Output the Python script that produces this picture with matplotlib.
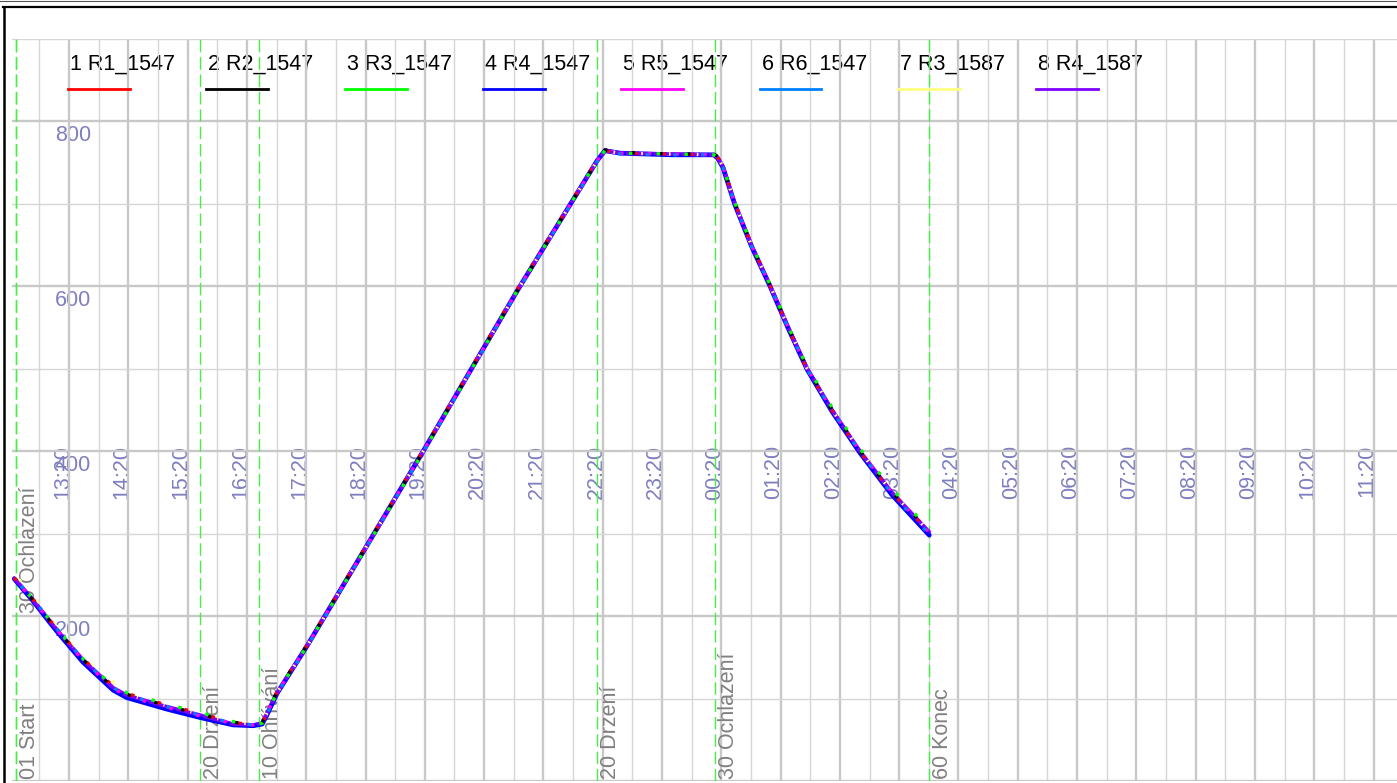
import matplotlib
matplotlib.use("Agg")
import matplotlib.pyplot as plt
import matplotlib.dates as mdates
import matplotlib.transforms as mtransforms
from matplotlib.lines import Line2D
from matplotlib.ticker import MultipleLocator
import pandas as pd

plt.rcParams['font.family'] = ['Liberation Sans', 'DejaVu Sans']
plt.rcParams['lines.scale_dashes'] = False

# --- data (hours from midnight of the start day, temperatures) ---
t_hours = [12.41, 12.73, 13.00, 13.18, 13.57, 14.08, 14.31, 14.99, 15.54, 16.10,
           16.44, 16.59, 16.67, 16.84, 17.35, 19.30, 20.89, 22.24, 22.37, 22.63,
           23.50, 24.21, 24.27, 24.36, 24.56, 24.85, 25.16, 25.46, 25.78, 26.20,
           26.67, 27.21, 27.84]

r1_1547 = [246, 220, 196, 180, 148, 115, 106, 92, 82, 71, 68, 70, 82, 108, 165, 400, 596,
           753, 764, 761, 760, 759, 756, 746, 701, 649, 600, 549, 499, 449, 399, 349, 302]
r2_1547 = [245, 219, 195, 179, 147, 113, 105, 91, 81, 71, 69, 70, 83, 108, 165, 399, 594,
           752, 765, 762, 760, 760, 757, 745, 700, 648, 600, 550, 500, 450, 400, 350, 303]
r3_1547 = [246, 220, 196, 180, 148, 115, 107, 93, 83, 72, 69, 70, 82, 107, 164, 398, 594,
           752, 764, 761, 760, 759, 756, 745, 701, 649, 601, 551, 502, 453, 403, 354, 305]
r4_1547 = [245, 218, 193, 177, 144, 110, 101, 87, 77, 68, 67, 69, 80, 106, 164, 399, 594,
           752, 764, 761, 759, 759, 755, 744, 699, 647, 599, 549, 499, 448, 398, 347, 298]
r5_1547 = [246, 219, 195, 179, 146, 112, 103, 89, 79, 70, 68, 70, 82, 107, 164, 399, 594,
           752, 764, 761, 760, 759, 756, 745, 700, 648, 600, 550, 500, 450, 400, 350, 301]
r6_1547 = [246, 220, 196, 180, 147, 113, 104, 90, 80, 70, 68, 70, 81, 106, 163, 398, 593,
           751, 763, 760, 759, 759, 755, 744, 699, 647, 599, 549, 499, 449, 399, 348, 299]
r3_1587 = [251, 224, 199, 182, 149, 120, 105, 91, 81, 71, 69, 70, 82, 107, 164, 399, 594,
           752, 764, 761, 760, 759, 756, 745, 700, 648, 600, 550, 500, 450, 400, 350, 302]
r4_1587 = [246, 219, 195, 179, 147, 113, 104, 90, 80, 69, 68, 70, 82, 107, 164, 399, 594,
           752, 764, 761, 760, 759, 756, 745, 700, 648, 600, 550, 500, 450, 400, 350, 302]

series_names = ['1 R1_1547', '2 R2_1547', '3 R3_1547', '4 R4_1547',
                '5 R5_1547', '6 R6_1547', '7 R3_1587', '8 R4_1587']
series_values = [r1_1547, r2_1547, r3_1547, r4_1547, r5_1547, r6_1547, r3_1587, r4_1587]
series_colors = ['#ff0000', '#000000', '#00ff00', '#0000ff',
                 '#ff00ff', '#0080ff', '#ffff80', '#8000ff']

# program phases: time of change, label, label height
phase_hours = [12.44, 12.44, 15.54, 16.54, 22.24, 24.23, 27.84]
phase_labels = ['01 Start', '30 Ochlazení', '20 Drzení', '10 Ohřívání',
                '20 Drzení', '30 Ochlazení', '60 Konec']
phase_label_y = [3, 204, 3, 3, 3, 3, 3]

y_ticks = [200, 400, 600, 800]

DAY = pd.Timestamp('2024-01-01')


def to_time(hours):
    return [DAY + pd.Timedelta(hours=h) for h in hours]


W, H = 1397, 783
fig = plt.figure(figsize=(W / 100, H / 100), dpi=100)
ax = fig.add_axes([12 / W, 2 / H, 1385 / W, 742.5 / H])

times = to_time(t_hours)
ax.set_xlim(to_time([12.372, 35.728]))
ax.set_ylim(0, 900)

ax.xaxis.set_major_locator(mdates.MinuteLocator(byminute=[20]))
ax.xaxis.set_minor_locator(mdates.MinuteLocator(byminute=[50]))
ax.yaxis.set_major_locator(MultipleLocator(200))
ax.yaxis.set_minor_locator(MultipleLocator(100))
ax.grid(which='major', color='#c8c8c8', linewidth=1.7)
ax.grid(which='minor', color='#d6d6d6', linewidth=1.0)
ax.set_axisbelow(True)
ax.tick_params(which='both', length=0, labelbottom=False, labelleft=False)
for sp in ax.spines.values():
    sp.set_visible(False)

# phase markers
for h, lab, ly in zip(phase_hours, phase_labels, phase_label_y):
    x = to_time([h])[0]
    ax.axvline(x, color='#44f044', linewidth=1.0, linestyle=(0, (9, 3.5)), zorder=1.5)
    off = mtransforms.offset_copy(ax.transData, fig=fig, x=3, y=0, units='dots')
    ax.text(x, ly, lab, transform=off, rotation=90, ha='left', va='bottom',
            color='#808080', fontsize=15.5, zorder=2)

# curves: blue and violet solid under-layers, then interleaved flecks of every series
ax.plot(times, r4_1547, color='#0000ff', linewidth=3.4, zorder=3,
        solid_capstyle='round', solid_joinstyle='round')
ax.plot(times, r4_1587, color='#8000ff', linewidth=2.6, zorder=3.2,
        solid_capstyle='round', solid_joinstyle='round')
n = len(series_values)
for i, (vals, col) in enumerate(zip(series_values, series_colors)):
    ax.plot(times, vals, color=col, linewidth=2.4, zorder=4,
            linestyle=(i * 2.5, (2.5, 2.5 * (n - 1))))

# x tick labels inside the plot (grid lines run over them)
tick_tf = mtransforms.offset_copy(ax.transData, fig=fig, x=4, y=0, units='dots')
for loc in ax.xaxis.get_majorticklocs():
    lab = mdates.num2date(loc).strftime('%H:%M')
    ax.text(loc, 407, lab, transform=tick_tf, rotation=90, ha='right', va='top',
            color='#7f7fbf', fontsize=15.5, zorder=0.3)

# y tick labels inside the plot
x_ylab = mdates.date2num(to_time([13.40])[0])
for v in y_ticks:
    ax.text(x_ylab, v - 5, str(v), ha='center', va='top',
            color='#7f7fbf', fontsize=15.5, zorder=0.3)

# legend: label on top, colour sample below
for i, (name, col) in enumerate(zip(series_names, series_colors)):
    x0 = 70 + 138.3 * i
    ax.text(x0 / W, (H - 69.5) / H, name, transform=fig.transFigure, ha='left',
            va='baseline', fontsize=15.5, color='black', zorder=0.3)
    fig.add_artist(Line2D([(x0 - 2) / W, (x0 + 60) / W], [(H - 89) / H] * 2,
                          color=col, linewidth=2.0))

# outer frame
fig.add_artist(Line2D([0, 1], [(H - 0.5) / H] * 2, color='#555555', linewidth=0.8))
fig.add_artist(Line2D([3 / W, 1], [(H - 7) / H] * 2, color='black', linewidth=1.6))
fig.add_artist(Line2D([4 / W] * 2, [0, (H - 7) / H], color='black', linewidth=1.8))

fig.savefig('out.png', dpi=100)
